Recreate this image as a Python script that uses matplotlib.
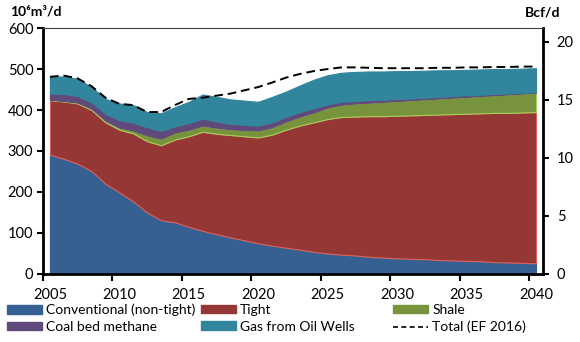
import numpy as np
import matplotlib
matplotlib.use("Agg")
import matplotlib.pyplot as plt
from matplotlib.patches import Patch
from matplotlib.lines import Line2D

plt.rcParams["font.family"] = ["Lato", "DejaVu Sans"]

years = np.arange(2005, 2041)

# 10^6 m3/d
conventional = [291, 281, 269, 251, 220, 199, 177, 150, 131, 126, 115, 105, 97, 89, 82, 75, 69, 64,
                59, 54, 50, 47, 45, 42, 40, 38, 37, 36, 34, 33, 32, 31, 29, 28, 27, 26]
tight = [133, 140, 147, 149, 150, 153, 166, 174, 183, 202, 221, 242, 245, 250, 254, 258, 271, 288,
         303, 316, 328, 336, 339, 343, 345, 348, 350, 352, 355, 357, 359, 361, 364, 365, 367, 369]
shale = [1, 1, 2, 3, 4, 5, 7, 14, 16, 17, 16, 15, 15, 14, 15, 17, 18, 20,
         22, 24, 28, 30, 32, 33, 35, 36, 37, 38, 39, 40, 41, 42, 43, 45, 46, 47]
coal_bed_methane = [15, 17, 16, 16, 17, 18, 19, 20, 19, 15, 16, 17, 15, 13, 13, 12, 12, 11,
                    11, 10, 8, 7, 6, 6, 5, 5, 4, 4, 4, 4, 4, 3, 3, 2, 2, 1]
oil_wells = [41, 43, 42, 37, 36, 41, 43, 37, 43, 47, 52, 59, 60, 60, 59, 58, 62, 62,
             65, 70, 71, 71, 71, 70, 69, 68, 67, 66, 65, 63, 62, 62, 61, 60, 59, 59]
total_ef2016 = [481, 484, 477, 458, 430, 415, 412, 395, 395, 412, 427, 430, 435, 440, 448, 456, 467, 479,
                488, 495, 500, 504, 504, 503, 502, 502, 502, 502, 503, 503, 504, 504, 505, 505, 506, 506]

labels = ["Conventional (non-tight)", "Tight", "Shale", "Coal bed methane", "Gas from Oil Wells"]
colors = ["#376092", "#953735", "#77933C", "#604A7B", "#31859C"]
edges = ["#376092", "#E0625A", "#A6CF5C", "#604A7B", "#31859C"]

fig = plt.figure(figsize=(5.8, 3.42), dpi=100)
ax = fig.add_axes([0.0741, 0.199, 0.862, 0.719])

polys = ax.stackplot(years, conventional, tight, shale, coal_bed_methane, oil_wells,
                     colors=colors, labels=labels)
for p, ec in zip(polys, edges):
    p.set_edgecolor(ec)
    p.set_linewidth(0.8)
ax.plot(years, total_ef2016, color="black", linestyle=(0, (4.5, 2.5)), linewidth=1.4,
        label="Total (EF 2016)")

ax.set_xlim(2004.5, 2040.5)
ax.set_ylim(0, 600)
ax.set_yticks(range(0, 601, 100))
ax.set_xticks(np.arange(2004.5, 2040, 5))
ax.set_xticklabels([])
ax.set_xticks(np.arange(2005, 2041, 5), minor=True)
ax.set_xticklabels([str(y) for y in range(2005, 2041, 5)], minor=True)
ax.tick_params(axis="x", which="minor", length=0, pad=10, labelsize=10.5)
ax.tick_params(axis="x", which="major", length=5, width=1.5, direction="out")
ax.tick_params(axis="y", length=4, width=1.5, labelsize=10.5, pad=3)

for s in ["left", "bottom", "right"]:
    ax.spines[s].set_linewidth(2)
    ax.spines[s].set_color("black")
ax.spines["top"].set_linewidth(0.8)
ax.spines["top"].set_color("#404040")

ax2 = ax.twinx()
ax2.set_ylim(0, 600 / 28.317)
ax2.set_yticks([0, 5, 10, 15, 20])
ax2.tick_params(axis="y", length=4, width=1.5, labelsize=10.5, pad=6)
for s in ax2.spines.values():
    s.set_visible(False)

fig.text(0.017, 0.967, "10⁶m³/d", fontsize=10, fontweight="bold", va="center")
fig.text(0.905, 0.962, "Bcf/d", fontsize=10, fontweight="bold", va="center")

h = [Patch(facecolor=c, edgecolor=c) for c in colors]
dash = Line2D([], [], color="black", linestyle=(0, (3, 2)), linewidth=1.2)
cols = [([h[0], h[3]], [labels[0], labels[3]], 0.012),
        ([h[1], h[4]], [labels[1], labels[4]], 0.347),
        ([h[2], dash], [labels[2], "Total (EF 2016)"], 0.678)]
for hs, ls, x0 in cols:
    fig.legend(hs, ls, loc="upper left", bbox_to_anchor=(x0, 0.112), frameon=False,
               fontsize=10, handlelength=2.5, handleheight=0.55, handletextpad=0.3,
               labelspacing=0.35, borderaxespad=0, borderpad=0)

fig.savefig("out.png", dpi=100)
